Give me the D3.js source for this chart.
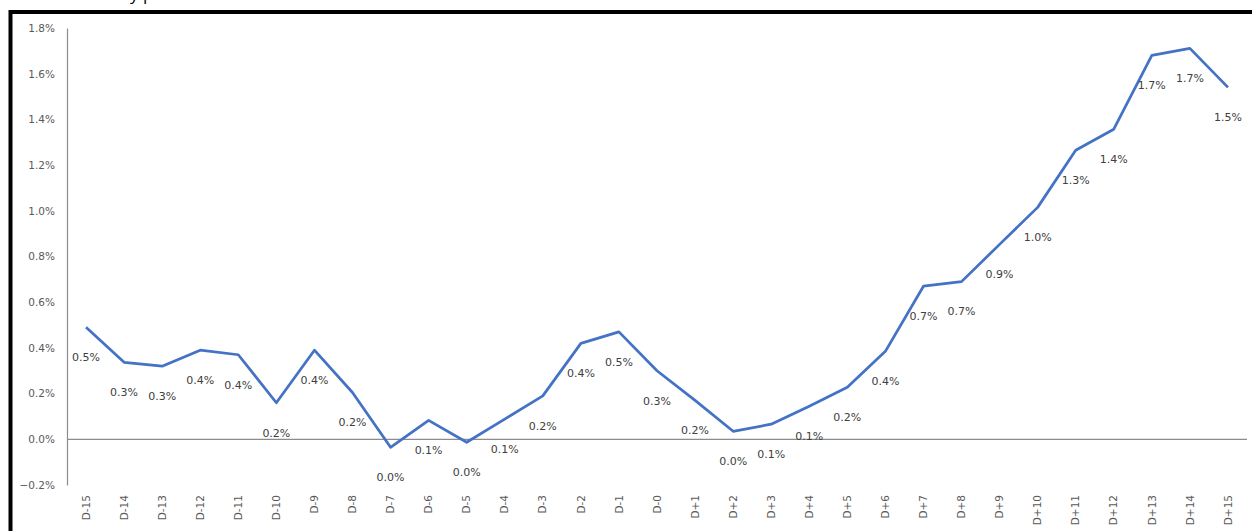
<!DOCTYPE html>
<html>
<head>
<meta charset="utf-8">
<script src="https://cdn.jsdelivr.net/npm/d3@7"></script>
<style>
  html, body { margin: 0; padding: 0; background: #fff; }
  svg { display: block; }
</style>
</head>
<body>
<svg id="chart" width="1252" height="531"></svg>
<script>
// Event-window days, D-15 … D+15
const days = [
  "D-15","D-14","D-13","D-12","D-11","D-10","D-9","D-8","D-7","D-6","D-5",
  "D-4","D-3","D-2","D-1","D-0","D+1","D+2","D+3","D+4","D+5","D+6",
  "D+7","D+8","D+9","D+10","D+11","D+12","D+13","D+14","D+15"
];

// Mean return per day, in percent
const returnsPct = [
  0.49, 0.337, 0.32, 0.39, 0.37, 0.16, 0.39, 0.205, -0.035, 0.083, -0.013,
  0.088, 0.19, 0.42, 0.47, 0.30, 0.17, 0.035, 0.066, 0.145, 0.228, 0.385,
  0.67, 0.69, 0.853, 1.015, 1.265, 1.357, 1.68, 1.711, 1.54
];

// Value axis ticks, in percent
const yTicks = [-0.2, 0, 0.2, 0.4, 0.6, 0.8, 1.0, 1.2, 1.4, 1.6, 1.8];

const titleText = "Mean return by period";

const svg = d3.select("#chart");
const font = "'DejaVu Sans', 'Open Sans', sans-serif";

const plot = { left: 67, right: 1247, top: 28, bottom: 485 };

const x = d3.scaleBand()
  .domain(days)
  .range([plot.left, plot.right])
  .padding(0);

const y = d3.scaleLinear()
  .domain([-0.2, 1.8])
  .range([plot.bottom, plot.top]);

const fmt = v => {
  const s = d3.format(".1f")(v);
  return (s === "-0.0" ? "0.0" : s) + "%";
};

// Title, sitting above the top edge so only its descenders show
const title = svg.append("text")
  .attr("y", -0.5)
  .attr("font-family", "'Open Sans', sans-serif")
  .attr("font-size", 17)
  .attr("fill", "#000")
  .text(titleText);
// align the "by p" part of the title
const probe = svg.append("text")
  .attr("font-family", "'Open Sans', sans-serif").attr("font-size", 17)
  .text("Mean return b");
const prefixW = probe.node().getComputedTextLength();
probe.remove();
title.attr("x", 130 - prefixW);

// Frame
svg.append("rect")
  .attr("x", 10.5).attr("y", 12)
  .attr("width", 1300).attr("height", 600)
  .attr("fill", "none")
  .attr("stroke", "#000")
  .attr("stroke-width", 4);

// Value axis
const yAxis = d3.axisLeft(y)
  .tickValues(yTicks)
  .tickSize(0)
  .tickPadding(12)
  .tickFormat(fmt);

const gy = svg.append("g")
  .attr("transform", `translate(${plot.left},0)`)
  .call(yAxis);
gy.select(".domain").attr("stroke", "#8c8c8c").attr("stroke-width", 1.2);
gy.selectAll("text")
  .attr("font-family", font)
  .attr("font-size", 10.5)
  .attr("fill", "#595959");

// Category axis crossing at zero
svg.append("line")
  .attr("x1", plot.left).attr("x2", plot.right)
  .attr("y1", y(0)).attr("y2", y(0))
  .attr("stroke", "#8c8c8c")
  .attr("stroke-width", 1.2);

// Category labels, rotated, placed below the plot
const xAxis = d3.axisBottom(x).tickSize(0).tickPadding(0);
const gx = svg.append("g")
  .attr("transform", `translate(0,${plot.bottom + 10})`)
  .call(xAxis);
gx.select(".domain").remove();
gx.selectAll("text")
  .attr("font-family", font)
  .attr("font-size", 10.5)
  .attr("fill", "#595959")
  .attr("text-anchor", "end")
  .attr("dy", "0.35em")
  .attr("transform", "rotate(-90)")
  .attr("x", 0).attr("y", 0);

// Line
const line = d3.line()
  .x((d, i) => x(days[i]) + x.bandwidth() / 2)
  .y(d => y(d));

svg.append("path")
  .datum(returnsPct)
  .attr("d", line)
  .attr("fill", "none")
  .attr("stroke", "#4472C4")
  .attr("stroke-width", 2.75)
  .attr("stroke-linejoin", "round");

// Data labels below each point
svg.append("g")
  .selectAll("text")
  .data(returnsPct)
  .join("text")
  .attr("x", (d, i) => x(days[i]) + x.bandwidth() / 2)
  .attr("y", d => y(d) + 30)
  .attr("dy", "0.35em")
  .attr("text-anchor", "middle")
  .attr("font-family", font)
  .attr("font-size", 11)
  .attr("fill", "#404040")
  .text(d => fmt(d));
</script>
</body>
</html>
